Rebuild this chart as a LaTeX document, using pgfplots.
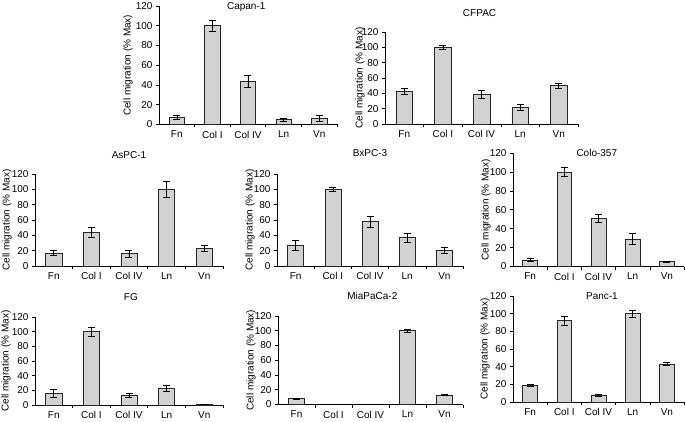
\documentclass[border=0pt]{standalone}
\usepackage{fontspec}
\setmainfont{Liberation Sans}
\usepackage{pgfplots}
\pgfplotsset{compat=1.18}
\definecolor{barfill}{RGB}{210,210,210}
\pgfplotsset{
 panel/.style={
  scale only axis, anchor=south west,
  ybar, bar width=0.43,
  ymin=0, ymax=120, ytick={0,20,...,120},
  xmin=-0.5, xmax=4.5,
  xtick={0,1,2,3,4}, xticklabels={Fn,Col I,Col IV,Ln,Vn},
  minor xtick={0.5,1.5,2.5,3.5,4.5},
  axis x line*=bottom, axis y line*=left,
  axis line style={black, line width=0.6pt},
  tick align=outside,
  major tick length=3pt, minor tick length=3pt,
  tick style={black, line width=0.6pt},
  major x tick style={draw=none},
  tick label style={font=\fontsize{10}{12}\selectfont},
  label style={font=\fontsize{10}{12}\selectfont},
  title style={font=\fontsize{10}{12}\selectfont, anchor=center, yshift=-6pt},
  ylabel={Cell migration (\% Max)},
  /pgf/number format/assume math mode=true,
  clip=false,
 },
 bars/.style={fill=barfill, draw=black!85, line width=0.6pt,
   error bars/y dir=both, error bars/y explicit,
   error bars/error bar style={black, line width=0.6pt},
   error bars/error mark options={rotate=90, mark size=3.5pt, black, line width=0.6pt}},
}
\begin{document}
\begin{tikzpicture}
\useasboundingbox (0,0) rectangle (685pt,421pt);
% Capan-1
\begin{axis}[panel, at={(159pt,296.5pt)}, width=178pt, height=118.5pt,
  title={Capan-1}, title style={at={(0.49,0.99)}},
  ylabel style={at={(axis description cs:-0.174,0.5)}, anchor=center}]
\addplot[bars] coordinates {(0,7) +- (0,2) (1,100) +- (0,6) (2,44) +- (0,6) (3,5) +- (0,1.5) (4,6) +- (0,3)};
\end{axis}
% CFPAC
\begin{axis}[panel, at={(385pt,297pt)}, width=193pt, height=92pt,
  title={CFPAC}, title style={at={(0.49,1.21)}},
  ylabel style={at={(axis description cs:-0.13,0.5)}, anchor=center}]
\addplot[bars] coordinates {(0,43) +- (0,4) (1,100) +- (0,3) (2,39) +- (0,5) (3,22) +- (0,4) (4,50) +- (0,3)};
\end{axis}
% AsPC-1
\begin{axis}[panel, at={(35pt,155pt)}, width=188pt, height=92pt,
  title={AsPC-1}, title style={at={(0.5,1.21)}},
  ylabel style={at={(axis description cs:-0.149,0.5)}, anchor=center}]
\addplot[bars] coordinates {(0,17) +- (0,3) (1,44) +- (0,6) (2,16) +- (0,5) (3,100) +- (0,11) (4,23) +- (0,4)};
\end{axis}
% BxPC-3
\begin{axis}[panel, at={(277pt,155pt)}, width=186pt, height=92pt,
  title={BxPC-3}, title style={at={(0.5,1.23)}},
  ylabel style={at={(axis description cs:-0.145,0.5)}, anchor=center}]
\addplot[bars] coordinates {(0,27) +- (0,6) (1,100) +- (0,3) (2,58) +- (0,7) (3,37) +- (0,6) (4,21) +- (0,4)};
\end{axis}
% Colo-357
\begin{axis}[panel, at={(513pt,154.5pt)}, width=171pt, height=113.5pt,
  title={Colo-357}, title style={at={(0.49,0.997)}},
  ylabel style={at={(axis description cs:-0.157,0.5)}, anchor=center}]
\addplot[bars] coordinates {(0,7) +- (0,1.5) (1,100) +- (0,5) (2,51) +- (0,4) (3,29) +- (0,6) (4,5) +- (0,1)};
\end{axis}
% FG
\begin{axis}[panel, at={(35pt,16pt)}, width=188pt, height=88pt,
  title={FG}, title style={at={(0.51,1.23)}},
  ylabel style={at={(axis description cs:-0.154,0.5)}, anchor=center}]
\addplot[bars] coordinates {(0,16) +- (0,5) (1,100) +- (0,6) (2,13) +- (0,3) (3,23) +- (0,4) (4,1) +- (0,0)};
\end{axis}
% MiaPaCa-2
\begin{axis}[panel, at={(278pt,16.5pt)}, width=185pt, height=88.5pt,
  title={MiaPaCa-2}, title style={at={(0.51,1.23)}},
  ylabel style={at={(axis description cs:-0.146,0.5)}, anchor=center}]
\addplot[bars] coordinates {(0,8) +- (0,0.5) (3,100) +- (0,2) (4,13) +- (0,1)};
\end{axis}
% Panc-1
\begin{axis}[panel, at={(513pt,19pt)}, width=171pt, height=106pt,
  title={Panc-1}, title style={at={(0.52,1.0)}},
  ylabel style={at={(axis description cs:-0.163,0.5)}, anchor=center}]
\addplot[bars] coordinates {(0,19) +- (0,1.5) (1,92) +- (0,5) (2,8) +- (0,1) (3,100) +- (0,4) (4,43) +- (0,1.5)};
\end{axis}
\end{tikzpicture}
\end{document}
